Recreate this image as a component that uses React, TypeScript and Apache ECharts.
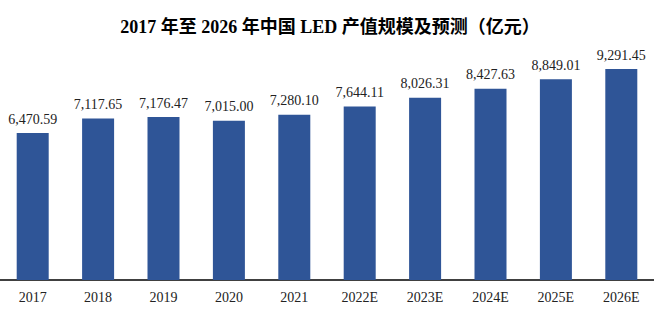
import React, { useEffect, useRef } from "react";
import * as echarts from "echarts";

const categories = ["2017", "2018", "2019", "2020", "2021", "2022E", "2023E", "2024E", "2025E", "2026E"];
const values = [6470.59, 7117.65, 7176.47, 7015.0, 7280.1, 7644.11, 8026.31, 8427.63, 8849.01, 9291.45];
const titleText = "2017 年至 2026 年中国 LED 产值规模及预测（亿元）";

const fmt = (v: number) =>
  v.toLocaleString("en-US", { minimumFractionDigits: 2, maximumFractionDigits: 2 });

export default function App() {
  const ref = useRef<HTMLDivElement>(null);
  useEffect(() => {
    const chart = echarts.init(ref.current!, null, { renderer: "svg" });
    chart.setOption({
      animation: false,
      title: {
        text: titleText,
        left: 325,
        textAlign: "center",
        top: 13,
        textStyle: {
          fontFamily: "'Liberation Serif', 'Noto Sans CJK SC', serif",
          fontWeight: "bold",
          fontSize: 18,
          color: "#000",
        },
      },
      grid: { left: -2, right: -2, top: 53, bottom: 41 },
      xAxis: {
        type: "category",
        data: categories,
        axisLine: { lineStyle: { color: "#000", width: 1.5 } },
        axisTick: { show: false },
        axisLabel: {
          color: "#222",
          fontFamily: "'Liberation Serif', serif",
          fontSize: 14,
          margin: 10,
        },
      },
      yAxis: {
        type: "value",
        min: 0,
        max: 10000,
        show: false,
        splitLine: { show: false },
      },
      series: [
        {
          type: "bar",
          data: values,
          barWidth: 32,
          itemStyle: { color: "#2F5597" },
          label: {
            show: true,
            position: "top",
            distance: 7,
            formatter: (p: any) => fmt(p.value),
            color: "#222",
            fontFamily: "'Liberation Serif', serif",
            fontSize: 14,
          },
        },
      ],
    });
    return () => chart.dispose();
  }, []);
  return (
    <div
      ref={ref}
      style={{ position: "absolute", left: 0, top: 0, width: 654, height: 321 }}
    />
  );
}
